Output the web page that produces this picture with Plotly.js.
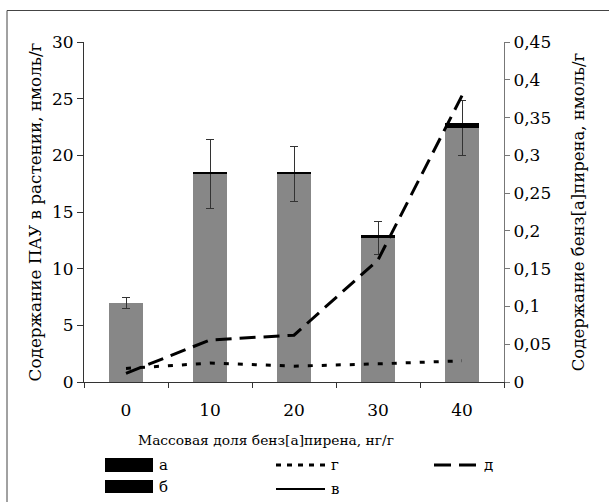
<!DOCTYPE html>
<html>
<head>
<meta charset="utf-8">
<script src="https://cdn.plot.ly/plotly-3.0.1.min.js"></script>
<style>html,body{margin:0;padding:0;background:#fff;}#chart{width:609px;height:502px;}</style>
</head>
<body>
<div id="chart"></div>
<script>
// ---- data ----
const categories = ['0', '10', '20', '30', '40'];
const seriesB = [6.97, 18.35, 18.35, 12.7, 22.4];      // б: grey bars, нмоль/г
const seriesA = [0, 0.18, 0.18, 0.25, 0.45];           // а: black stacked top
const errB = [0.47, 3.05, 2.4, 1.45, 2.4];             // error of bars
const seriesG = [0.018, 0.025, 0.021, 0.024, 0.028];   // г: dotted, right axis
const seriesD = [0.0115, 0.0556, 0.062, 0.1615, 0.379];// д: dashed, right axis
const seriesV = [null, null, null, null, null];        // в: solid (not visible)
const legendNames = ['а', 'б', 'в', 'г', 'д'];
const xTitle = 'Массовая доля бенз[а]пирена, нг/г';

const FONT = 'DejaVu Serif';
const W = 609, H = 502;
const M = {l: 84, r: 105, t: 42, b: 120};
const PW = W - M.l - M.r, PH = H - M.t - M.b;
const px = x => (x - M.l) / PW;
const py = y => (H - M.b - y) / PH;

const traces = [
  {type: 'bar', x: categories, y: seriesB, name: legendNames[1],
   marker: {color: '#878787', line: {width: 0}}, width: 0.4,
   error_y: {type: 'data', array: errB, visible: true, color: '#333', thickness: 1, width: 4},
   showlegend: false},
  {type: 'bar', x: categories, y: seriesA, name: legendNames[0],
   marker: {color: '#000000', line: {width: 0}}, width: 0.4, showlegend: false},
  {type: 'scatter', mode: 'lines', x: categories, y: seriesV, yaxis: 'y2', name: legendNames[2],
   line: {color: '#000', width: 2}, showlegend: false},
  {type: 'scatter', mode: 'lines', x: categories, y: seriesG, yaxis: 'y2', name: legendNames[3],
   line: {color: '#000', width: 3, dash: '5px,9px'}, showlegend: false},
  {type: 'scatter', mode: 'lines', x: categories, y: seriesD, yaxis: 'y2', name: legendNames[4],
   line: {color: '#000', width: 3, dash: '16px,8px'}, showlegend: false}
];

// manual legend (swatches + labels)
const shapes = [
  {type: 'rect', xref: 'paper', yref: 'paper', x0: px(7), x1: px(640), y0: py(540), y1: py(10.5),
   line: {color: '#444', width: 1}, fillcolor: 'rgba(0,0,0,0)', layer: 'below'},
  {type: 'rect', xref: 'paper', yref: 'paper', x0: px(105), x1: px(153), y0: py(472), y1: py(458),
   line: {width: 0}, fillcolor: '#000'},
  {type: 'rect', xref: 'paper', yref: 'paper', x0: px(105), x1: px(153), y0: py(493), y1: py(480),
   line: {width: 0}, fillcolor: '#000'},
  {type: 'line', xref: 'paper', yref: 'paper', x0: px(276), x1: px(328), y0: py(465), y1: py(465),
   line: {color: '#000', width: 3, dash: '5px,6px'}},
  {type: 'line', xref: 'paper', yref: 'paper', x0: px(276), x1: px(325), y0: py(489), y1: py(489),
   line: {color: '#000', width: 2}},
  {type: 'line', xref: 'paper', yref: 'paper', x0: px(434), x1: px(478), y0: py(465), y1: py(465),
   line: {color: '#000', width: 3, dash: '17px,8px'}}
];
const legPos = [[157, 465], [157, 487], [329, 489], [329, 465], [482, 465]];
const annotations = legendNames.map((n, i) => ({
  text: n, xref: 'paper', yref: 'paper', x: px(legPos[i][0]), y: py(legPos[i][1]),
  xanchor: 'left', yanchor: 'middle', showarrow: false,
  font: {family: FONT, size: 15, color: '#000'}
}));
// x-axis title (offset left of the plot centre, as in the reference)
annotations.push({
  text: xTitle, xref: 'paper', yref: 'paper', x: px(266), y: py(440),
  xanchor: 'center', yanchor: 'middle', showarrow: false,
  font: {family: FONT, size: 13.8, color: '#000'}
});

const layout = {
  width: W, height: H,
  margin: M,
  paper_bgcolor: '#fff', plot_bgcolor: '#fff',
  separators: ', ',
  barmode: 'stack',
  showlegend: false,
  font: {family: FONT, size: 17, color: '#000'},
  xaxis: {
    type: 'category', categoryorder: 'array', categoryarray: categories,
    showline: true, linecolor: '#333', linewidth: 1,
    ticks: 'outside', tickson: 'boundaries', ticklen: 5, tickcolor: '#333',
    showgrid: false, zeroline: false,
    tickfont: {family: FONT, size: 17}, ticklabelstandoff: 13,
    automargin: false
  },
  yaxis: {
    range: [0, 30], dtick: 5, showline: true, linecolor: '#333', linewidth: 1,
    ticks: 'outside', ticklen: 6, tickcolor: '#333', showgrid: false, zeroline: false,
    tickfont: {family: FONT, size: 17},
    title: {text: 'Содержание ПАУ в растении, нмоль/г', font: {family: FONT, size: 16.8}, standoff: 6},
    automargin: false
  },
  yaxis2: {
    overlaying: 'y', side: 'right', range: [0, 0.45], dtick: 0.05,
    showline: true, linecolor: '#777', linewidth: 1,
    ticks: 'outside', ticklen: 5, tickcolor: '#777', showgrid: false, zeroline: false,
    tickfont: {family: FONT, size: 17},
    title: {text: 'Содержание бенз[а]пирена, нмоль/г', font: {family: FONT, size: 16.5}, standoff: 22},
    automargin: false
  },
  shapes: shapes,
  annotations: annotations
};

Plotly.newPlot('chart', traces, layout, {displayModeBar: false, staticPlot: true});
</script>
</body>
</html>
